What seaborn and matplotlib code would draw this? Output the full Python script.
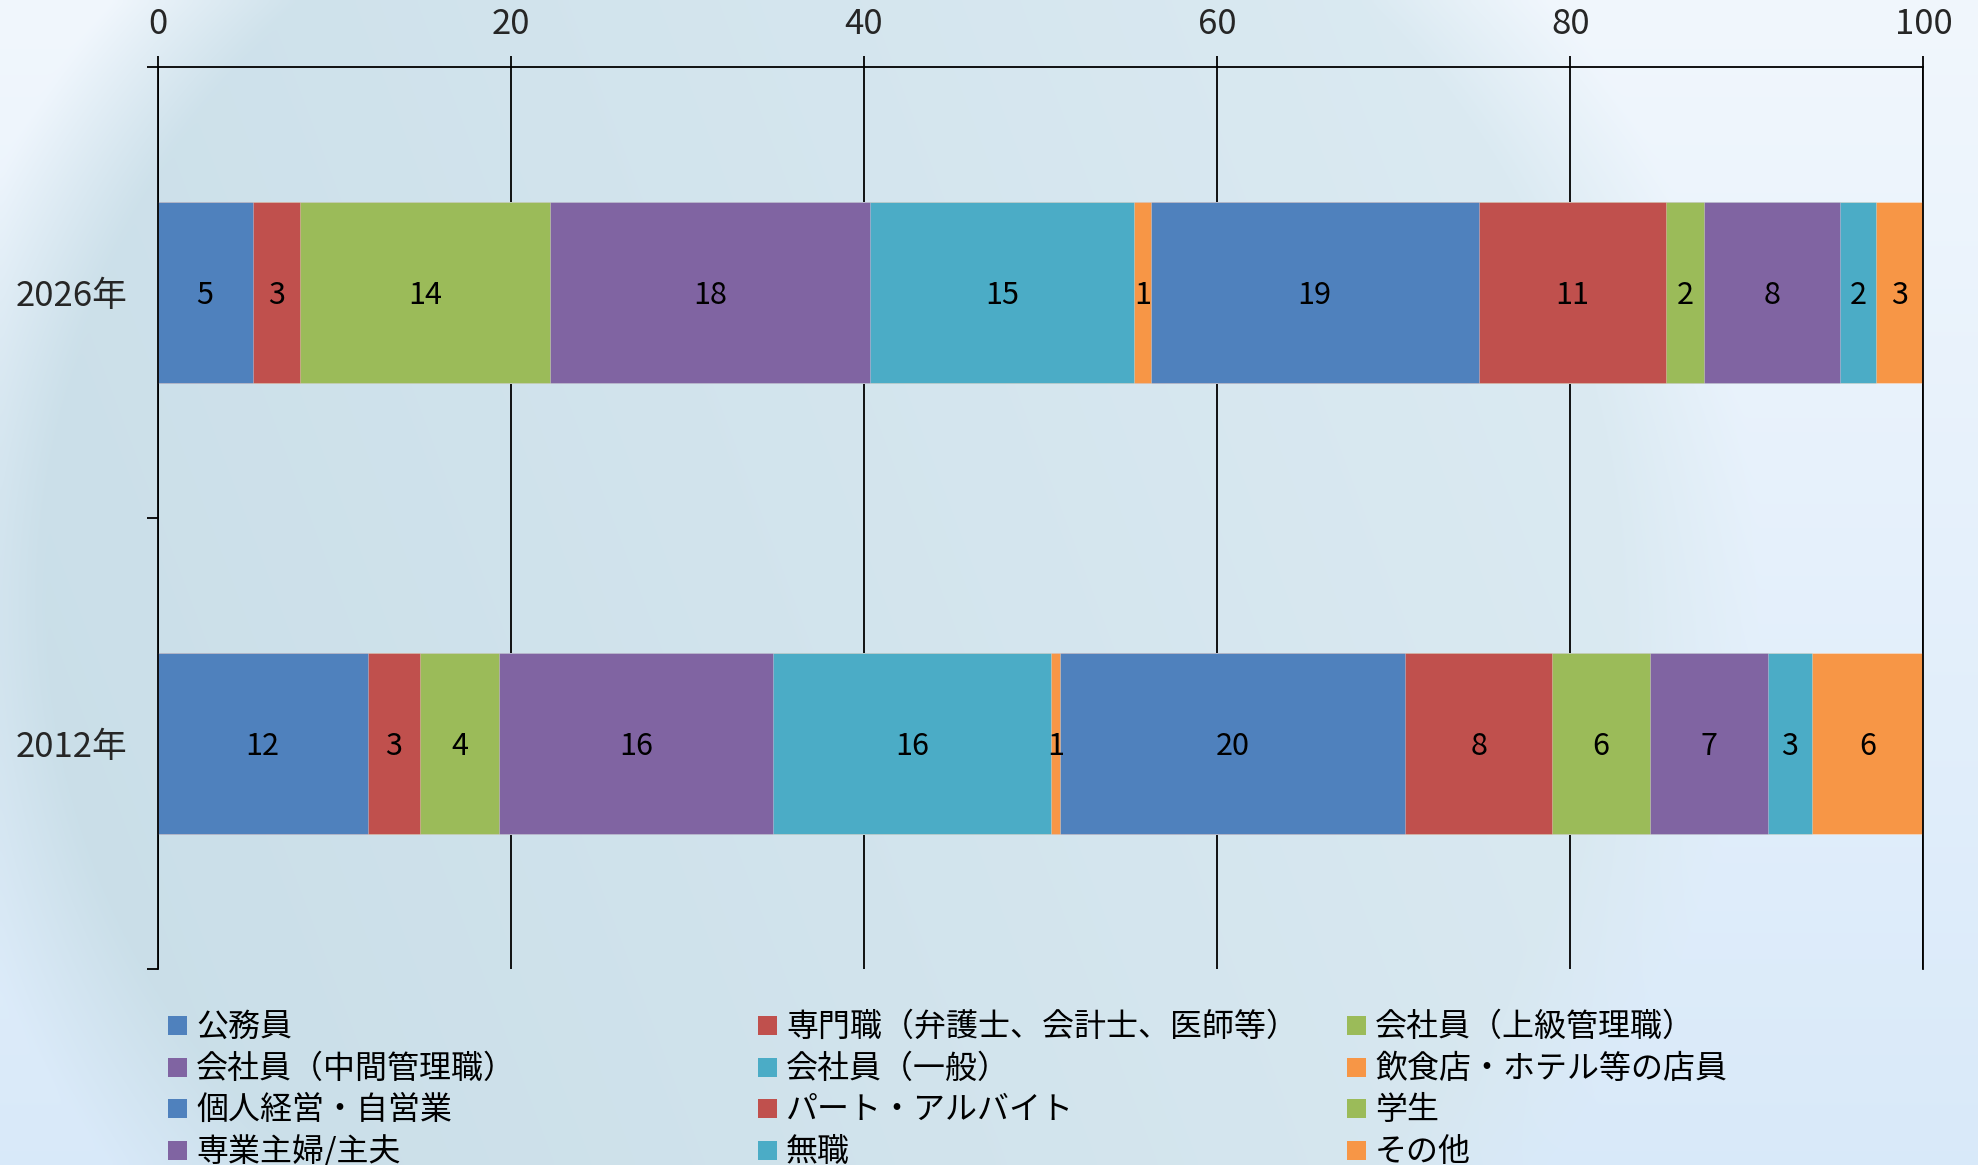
import numpy as np
import pandas as pd
import matplotlib
matplotlib.use("Agg")
import matplotlib.pyplot as plt
from matplotlib.patches import Rectangle
import seaborn as sns

# ---- data -------------------------------------------------------------
years = ["2026年", "2012年"]
categories = [
    "公務員", "専門職（弁護士、会計士、医師等）", "会社員（上級管理職）",
    "会社員（中間管理職）", "会社員（一般）", "飲食店・ホテル等の店員",
    "個人経営・自営業", "パート・アルバイト", "学生",
    "専業主婦/主夫", "無職", "その他",
]
values_2026 = [5.38, 2.68, 14.18, 18.10, 14.97, 0.93, 18.58, 10.58, 2.20, 7.69, 2.01, 2.69]
values_2012 = [11.90, 2.96, 4.48, 15.53, 15.70, 0.54, 19.55, 8.30, 5.55, 6.68, 2.51, 6.30]
colors = [
    "#4F81BD", "#C0504D", "#9BBB59", "#8064A2", "#4BACC6", "#F79646",
    "#4F81BD", "#C0504D", "#9BBB59", "#8064A2", "#4BACC6", "#F79646",
]
x_ticks = [0, 20, 40, 60, 80, 100]

# ---- style ------------------------------------------------------------
sns.set_style("white")
plt.rcParams["font.family"] = ["Noto Sans CJK JP", "DejaVu Sans"]
plt.rcParams["text.color"] = "black"

W, H = 1978, 1165
fig = plt.figure(figsize=(W / 100, H / 100), dpi=100)

# soft light-blue backdrop with a large pale globe
bg = fig.add_axes([0, 0, 1, 1], zorder=-5)
gh, gw = 240, 400
yy, xx = np.mgrid[0:gh, 0:gw]
fx, fy = xx / (gw - 1), yy / (gh - 1)
outside = np.zeros((gh, gw, 3))
top_c = np.array([0.945, 0.968, 0.992])
bot_c = np.array([0.85, 0.915, 0.978])
outside[:] = top_c * (1 - fy[..., None]) + bot_c * fy[..., None]
globe_c_dark = np.array([0.785, 0.868, 0.908])
globe_c_light = np.array([0.87, 0.925, 0.955])
t = np.clip(fx * 0.9 + (1 - fy) * 0.2, 0, 1)[..., None]
globe = globe_c_dark * (1 - t) + globe_c_light * t
cx, cy, r = 0.42, 0.50, 0.47
d = np.sqrt(((fx - cx) * W / H) ** 2 + (fy - cy) ** 2)
m = np.clip((r * W / H - d) / 0.12, 0, 1)[..., None]
img = globe * m + outside * (1 - m)
bg.imshow(img, aspect="auto", extent=[0, 1, 0, 1], interpolation="bicubic")
bg.set_xlim(0, 1)
bg.set_ylim(0, 1)
bg.axis("off")

ax = fig.add_axes([0.0797, 0.1684, 0.8927, 0.7741])
ax.set_facecolor("none")

# ---- stacked bars (cumulative totals drawn back to front) -------------
rows = []
for yr, vals in zip(years, [values_2026, values_2012]):
    cum = np.cumsum(vals)
    for i, (cat, v) in enumerate(zip(categories, vals)):
        rows.append({"year": yr, "idx": i, "category": cat, "value": v,
                     "cum": cum[i], "left": cum[i] - v})
df = pd.DataFrame(rows)

for i in reversed(range(len(categories))):
    sub = df[df["idx"] == i]
    sns.barplot(data=sub, x="cum", y="year", order=years, orient="h",
                color=colors[i], saturation=1, width=0.4, ax=ax,
                edgecolor=(1, 1, 1, 0.35), linewidth=0.6, errorbar=None)

for _, r_ in df.iterrows():
    yi = years.index(r_["year"])
    ax.annotate(f"{r_['value']:.0f}", (r_["left"] + r_["value"] / 2, yi),
                xytext=(0, -2.5), textcoords="offset points",
                ha="center", va="center", fontsize=22, color="black", zorder=5)

# ---- axes -------------------------------------------------------------
ax.set_xlim(0, 100)
ax.set_ylim(1.5, -0.5)
ax.xaxis.tick_top()
ax.set_xticks(x_ticks)
ax.set_xticklabels([str(v) for v in x_ticks])
ax.tick_params(axis="x", which="major", top=True, bottom=False, direction="out",
               length=8, width=1.3, color="black", labelsize=25, pad=10)
ax.set_yticks([0, 1])
ax.set_yticklabels(years)
ax.set_yticks([-0.5, 0.5, 1.5], minor=True)
ax.tick_params(axis="y", which="major", length=0, labelsize=25, pad=22)
ax.tick_params(axis="y", which="minor", left=True, direction="out",
               length=8, width=1.3, color="black")
ax.set_xlabel("")
ax.set_ylabel("")
ax.grid(axis="x", color="black", linewidth=1.3)
ax.grid(axis="y", visible=False)
ax.set_axisbelow(True)
ax.spines["bottom"].set_visible(False)
for side in ["top", "left", "right"]:
    ax.spines[side].set_visible(True)
    ax.spines[side].set_color("black")
    ax.spines[side].set_linewidth(1.3)

# ---- legend (three columns, filled row by row) ------------------------
col_marker_x = [168, 758, 1347]
row_y = [1023, 1065, 1106, 1148]
msz = 19
for i, (cat, c) in enumerate(zip(categories, colors)):
    row, col = divmod(i, 3)
    x0 = col_marker_x[col]
    yc = row_y[row]
    fig.add_artist(Rectangle((x0 / W, 1 - (yc + msz / 2 + 2) / H), msz / W, msz / H,
                             transform=fig.transFigure, facecolor=c,
                             edgecolor="none"))
    fig.text((x0 + msz + 9) / W, 1 - (yc + 4) / H, cat, fontsize=23,
             ha="left", va="center", color="black")

fig.savefig("out.png", dpi=100)
